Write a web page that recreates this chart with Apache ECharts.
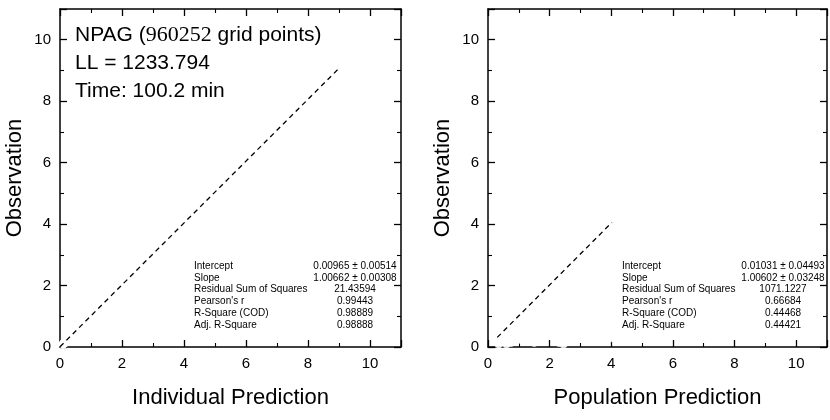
<!DOCTYPE html>
<html><head><meta charset="utf-8">
<script src="https://cdn.jsdelivr.net/npm/echarts@6/dist/echarts.min.js"></script>
<style>html,body{margin:0;padding:0;background:#fff}#c{width:830px;height:420px}</style>
</head><body><div id="c"></div>
<script>
const tickValues = [0, 2, 4, 6, 8, 10];
const popLevels = [4.02, 2.45, 2.3, 1.8, 1.65, 1.5, 1.35, 1.2, 1.05, 0.9, 0.75, 0.6, 0.45, 0.35];
const obsGroups = [
 [9.1,8.2,7.0,6.6,6.2,6.05,5.2,5.0,4.8,4.6,4.4,4.2,4.0,3.8,3.6,3.4,3.2,3.0,2.8,2.6,2.4,2.2,2.0,1.85,0.3],
 [6.1,6.05,5.0,4.5,4.2,3.9,3.6,3.3,3.0,2.8,2.6,2.4,2.2,2.0,1.8,1.6,1.4,1.2,1.0,0.8,0.6,0.3,0.1],
 [4.9,4.2,3.8,3.5,3.2,2.9,2.7,2.5,2.3,2.1,1.9,1.7,1.5,1.3,1.1,0.9,0.7,0.5,0.35,0.15],
 [3.6,3.3,3.0,2.8,2.6,2.4,2.2,2.0,1.8,1.6,1.4,1.2,1.0,0.8,0.6,0.4,0.2],
 [6.5,3.5,3.1,2.7,2.4,2.1,1.8,1.5,1.2,0.9,0.6,0.3],
 [5.6,3.2,2.9,2.5,2.2,1.9,1.6,1.3,1.0,0.7,0.4,0.15],
 [6.6,3.7,3.0,2.6,2.3,2.0,1.7,1.4,1.1,0.8,0.5,0.2],
 [5.9,3.3,2.8,2.4,2.1,1.8,1.5,1.2,0.9,0.6,0.3],
 [5.3,3.6,3.1,2.7,2.3,2.0,1.7,1.4,1.1,0.8,0.5,0.25],
 [5.5,3.4,2.9,2.5,2.2,1.9,1.6,1.3,1.0,0.7,0.45,0.2],
 [5.2,3.1,2.7,2.3,2.0,1.7,1.4,1.15,0.9,0.65,0.4,0.15],
 [5.4,2.9,2.5,2.1,1.8,1.5,1.25,1.0,0.75,0.5,0.3,0.1],
 [5.3,3.0,2.6,2.2,1.6,1.3,1.05,0.8,0.6,0.4,0.2],
 [2.1,1.5,1.1,0.85,0.6,0.4,0.25,0.1]
];
const indGroups = [
 [8.95,8.45,7.02,6.65,6.15,6.0,5.15,5.05,4.75,4.62,4.38,4.25,3.95,3.82,3.58,3.45,3.18,3.05,2.75,2.62,2.38,2.25,1.95,1.9,0.35],
 [5.95,6.1,5.05,4.4,4.25,3.85,3.65,3.25,3.05,2.75,2.65,2.35,2.25,1.95,1.85,1.55,1.45,1.15,1.05,0.78,0.62,0.32,0.12],
 [4.85,4.15,3.9,3.45,3.25,2.85,2.75,2.45,2.35,2.05,1.95,1.65,1.55,1.25,1.15,0.88,0.72,0.48,0.36,0.16],
 [3.55,3.35,2.95,2.85,2.55,2.45,2.15,2.05,1.75,1.65,1.35,1.25,0.95,0.82,0.58,0.42,0.18],
 [6.45,3.45,3.15,2.65,2.45,2.05,1.85,1.45,1.25,0.88,0.62,0.28],
 [5.55,3.15,2.95,2.45,2.25,1.85,1.65,1.25,1.02,0.68,0.42,0.14],
 [6.55,3.6,3.05,2.55,2.35,1.95,1.75,1.35,1.12,0.78,0.52,0.19],
 [5.85,3.35,2.75,2.45,2.05,1.85,1.45,1.22,0.88,0.62,0.28],
 [5.3,3.55,3.15,2.65,2.35,1.95,1.72,1.38,1.12,0.78,0.5,0.24],
 [5.4,3.45,2.85,2.55,2.15,1.95,1.55,1.32,0.98,0.72,0.44,0.21],
 [5.25,3.05,2.75,2.25,2.05,1.65,1.42,1.12,0.92,0.63,0.41,0.15],
 [5.35,2.95,2.45,2.15,1.75,1.52,1.22,1.02,0.73,0.52,0.29,0.1],
 [5.2,3.05,2.55,2.25,1.65,1.28,1.06,0.78,0.62,0.38,0.2],
 [2.05,1.48,1.12,0.83,0.61,0.41,0.24,0.11]
];
const fitLeft = [[0, 0.00965], [9, 9.069]];
const fitRight = [[0.3, 0.3121], [4.02, 4.054]];
const statLabels = ['Intercept','Slope','Residual Sum of Squares',"Pearson's r",'R-Square (COD)','Adj. R-Square'];
const statLeft = ['0.00965 \u00b1 0.00514','1.00662 \u00b1 0.00308','21.43594','0.99443','0.98889','0.98888'];
const statRight = ['0.01031 \u00b1 0.04493','1.00602 \u00b1 0.03248','1071.1227','0.66684','0.44468','0.44421'];

const leftPts = [], rightPts = [];
popLevels.forEach((p, g) => obsGroups[g].forEach((o, i) => {
  leftPts.push([indGroups[g][i], o]);
  rightPts.push([p, o]);
}));

const F = 'Liberation Sans, Arial, sans-serif';
const grids = [
  {left: 60, right: 429, top: 9, bottom: 73},
  {left: 488, right: 3, top: 9, bottom: 73}
];
function mk(type, gi, pos, title, main) {
  const a = {
    type: 'value', gridIndex: gi, position: pos, min: 0, max: 11, interval: 2,
    axisLine: {show: true, onZero: false, lineStyle: {color: '#000', width: 1.5}},
    axisTick: {show: true, inside: true, length: 7, lineStyle: {color: '#000', width: 1.3}},
    minorTick: {show: true, splitNumber: 2, length: 4, lineStyle: {color: '#000', width: 1.1}},
    splitLine: {show: false},
    axisLabel: {show: main, color: '#000', fontFamily: F, fontSize: 15, margin: 9,
      formatter: v => tickValues.includes(v) ? String(v) : ''}
  };
  if (main) {
    a.name = title; a.nameLocation = 'middle';
    a.nameTextStyle = {color: '#000', fontFamily: F, fontSize: 22};
    a.nameGap = type === 'x' ? 40 : 34;
  }
  return a;
}
const xAxis = [mk('x',0,'bottom','Individual Prediction',true), mk('x',0,'top','',false),
               mk('x',1,'bottom','Population Prediction',true), mk('x',1,'top','',false)];
const yAxis = [mk('y',0,'left','Observation',true), mk('y',0,'right','',false),
               mk('y',1,'left','Observation',true), mk('y',1,'right','',false)];
const sym = {type: 'scatter', symbol: 'emptyCircle', symbolSize: 7,
  itemStyle: {color: '#fff', borderColor: '#f00', borderWidth: 1}, z: 3, silent: true};
const graphic = [];
function stats(lx, vx, vals) {
  statLabels.forEach((s, i) => {
    const y = 266 + i * 11.8;
    graphic.push({type: 'text', x: lx, y: y, style: {text: s, fontFamily: F, fontSize: 10, fill: '#000', verticalAlign: 'middle'}});
    graphic.push({type: 'text', x: vx, y: y, style: {text: vals[i], fontFamily: F, fontSize: 10, fill: '#000', align: 'center', verticalAlign: 'middle'}});
  });
}
stats(194, 355, statLeft);
stats(622, 783, statRight);
graphic.push({type: 'text', left: 75, top: 21, style: {
  text: '{a|NPAG (}{b|960252}{a| grid points)}\n{a|LL = 1233.794}\n{a|Time: 100.2 min}',
  lineHeight: 28,
  rich: {a: {fontFamily: F, fontSize: 21, fill: '#000', lineHeight: 28},
         b: {fontFamily: 'Liberation Serif, Times New Roman, serif', fontSize: 22, fill: '#000', lineHeight: 28}}}});
const chart = echarts.init(document.getElementById('c'), null, {renderer: 'canvas'});
chart.setOption({
  animation: false,
  grid: grids, xAxis, yAxis, graphic,
  series: [
    Object.assign({}, sym, {xAxisIndex: 0, yAxisIndex: 0, data: leftPts}),
    Object.assign({}, sym, {xAxisIndex: 2, yAxisIndex: 2, data: rightPts}),
    {type: 'line', xAxisIndex: 0, yAxisIndex: 0, data: fitLeft, symbol: 'none', z: 4,
     lineStyle: {color: '#000', width: 1.3, type: [5, 4]}},
    {type: 'line', xAxisIndex: 2, yAxisIndex: 2, data: fitRight, symbol: 'none', z: 4,
     lineStyle: {color: '#000', width: 1.3, type: [5, 4]}}
  ]
});
</script>
</body></html>
